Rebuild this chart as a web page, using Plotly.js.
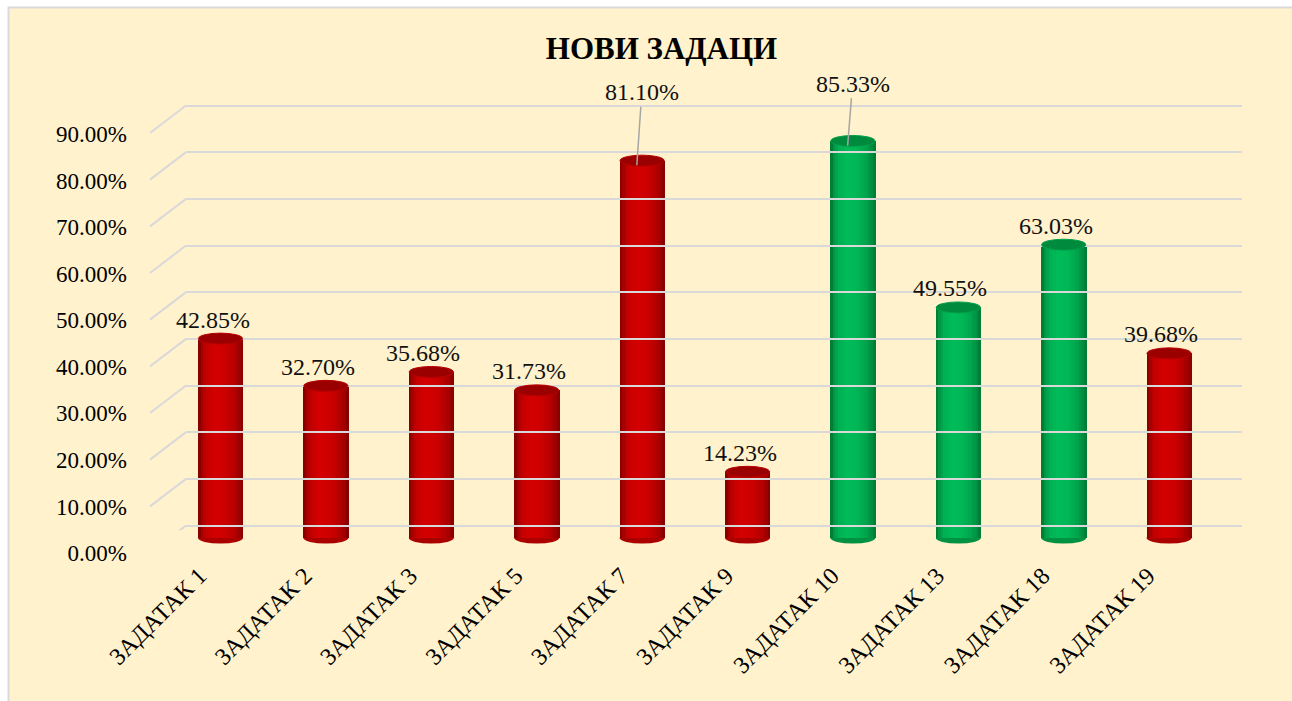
<!DOCTYPE html>
<html>
<head>
<meta charset="utf-8">
<script src="https://cdn.plot.ly/plotly-3.0.1.min.js"></script>
<style>html,body{margin:0;padding:0;background:#fff;}#chart{width:1292px;height:701px;}</style>
</head>
<body>
<div id="chart"></div>
<script>
// ---- data ----
const categories = ['ЗАДАТАК 1','ЗАДАТАК 2','ЗАДАТАК 3','ЗАДАТАК 5','ЗАДАТАК 7','ЗАДАТАК 9','ЗАДАТАК 10','ЗАДАТАК 13','ЗАДАТАК 18','ЗАДАТАК 19'];
const values = [42.85, 32.70, 35.68, 31.73, 81.10, 14.23, 85.33, 49.55, 63.03, 39.68];
const isGreen = [false, false, false, false, false, false, true, true, true, false];
const yTicks = [0, 10, 20, 30, 40, 50, 60, 70, 80, 90];
const yTickText = yTicks.map(v => v.toFixed(2) + '%');
const titleText = 'НОВИ ЗАДАЦИ';

// ---- layout helpers (pixel -> paper) ----
const W = 1292, H = 701;
const px = x => x / W;
const py = y => 1 - y / H;
const FONT = 'Liberation Serif, Times New Roman, serif';

// ---- cylinder shading ----
const barW = 0.427;
const N = 18;
const stops = [[0,0.12],[0.06,0.5],[0.18,0.85],[0.38,1.0],[0.6,0.93],[0.8,0.72],[0.93,0.45],[1,0.22]];
function prof(u){
  for(let i=1;i<stops.length;i++){
    if(u<=stops[i][0]){const a=stops[i-1],b=stops[i];return a[1]+(b[1]-a[1])*(u-a[0])/(b[0]-a[0]);}
  }
  return stops[stops.length-1][1];
}
const redDark=[105,0,0], redBright=[212,0,0];
const grnDark=[0,100,42], grnBright=[0,188,88];
function mix(a,b,t){return 'rgb('+a.map((v,i)=>Math.round(v+(b[i]-v)*t)).join(',')+')';}

const traces = [];
for(let k=0;k<N;k++){
  const u=(k+0.5)/N, f=prof(u);
  traces.push({
    type:'bar', x:categories, y:values, xaxis:'x', yaxis:'y',
    width: barW/N + 0.004, offset: -barW/2 + k*barW/N,
    marker:{color: isGreen.map(g => g ? mix(grnDark,grnBright,f) : mix(redDark,redBright,f)), line:{width:0}},
    hoverinfo:'skip', showlegend:false
  });
}
// helper trace to create the back-wall subplot
traces.push({type:'scatter', x:[0], y:[0], xaxis:'x2', yaxis:'y2', mode:'markers', marker:{opacity:0}, hoverinfo:'skip', showlegend:false});

// ---- shapes ----
const shapes = [];
// chart area
shapes.push({type:'rect', xref:'paper', yref:'paper', x0:px(8.5), x1:1.02, y0:-0.02, y1:py(7.5), fillcolor:'#FFF2CC', line:{color:'#D9D9D9', width:2}, layer:'below'});
// slanted side gridlines (front-left edge to back wall)
yTicks.forEach(v => {
  shapes.push({type:'line', xref:'paper', yref:'y2', x0:px(150), x1:px(186), y0:v - 27.5/4.667, y1:v, line:{color:'#D9D9D9', width:2}, layer:'below'});
});
// ellipses for cylinder bottoms and tops
const eh = 5.5/4.653;
values.forEach((v,i) => {
  shapes.push({type:'circle', xref:'x', yref:'y', x0:i-barW/2, x1:i+barW/2, y0:-eh, y1:eh,
    fillcolor: isGreen[i] ? '#009242' : '#AA0000', line:{width:0}, layer:'between'});
  shapes.push({type:'circle', xref:'x', yref:'y', x0:i-barW/2+0.004, x1:i+barW/2-0.004, y0:v-eh, y1:v+eh,
    fillcolor: isGreen[i] ? '#008A3D' : '#9A0000', line:{color: isGreen[i] ? '#00A04A' : '#B80000', width:1}, layer:'above'});
});

// ---- data labels ----
const annotations = values.map((v,i) => ({
  x:i, y:v, xref:'x', yref:'y', text:v.toFixed(2)+'%',
  font:{family:FONT, size:24, color:'#111'}, showarrow:false, xshift:-8, yshift:19
}));
// leader-line labels for the two tallest bars
[[4, 5, -73], [6, 5, -62]].forEach(([i, ax, ay]) => {
  Object.assign(annotations[i], {x:i-0.05, y:values[i]-1, xshift:0, yshift:0, showarrow:true, arrowhead:0, arrowwidth:1.5, arrowcolor:'#A6A6A6', ax:ax, ay:ay, standoff:0});
});

const layout = {
  width:W, height:H,
  margin:{l:0,r:0,t:0,b:0,pad:0},
  paper_bgcolor:'#FFFFFF', plot_bgcolor:'rgba(0,0,0,0)',
  barmode:'overlay', bargap:0,
  title:{text:'<b>'+titleText+'</b>', x:px(661.5), y:py(48), xanchor:'center', yanchor:'middle', xref:'paper', yref:'paper', font:{family:FONT, size:31, color:'#000'}},
  xaxis:{domain:[px(167.8), px(1221.8)], range:[-0.5, 9.5], type:'category', anchor:'y',
    showgrid:false, zeroline:false, showline:false, ticks:'',
    tickangle:-45, tickfont:{family:FONT, size:24, color:'#000'},
    ticklabelshift:-21, ticklabelstandoff:4},
  yaxis:{domain:[py(538 + 3*4.653), py(538 - 100*4.653)], range:[-3,100], anchor:'x',
    showgrid:false, zeroline:false, showline:false, ticks:'',
    tickvals:yTicks, ticktext:yTickText,
    tickfont:{family:FONT, size:23, color:'#000'},
    ticklabelshift:15, ticklabelstandoff:40},
  xaxis2:{domain:[px(186), px(1242)], range:[0,1], anchor:'y2', visible:true,
    showgrid:false, zeroline:false, showline:false, showticklabels:false, ticks:''},
  yaxis2:{domain:[py(525.5 + 4.667), py(105.5 - 4.667)], range:[-1, 91], anchor:'x2',
    tickvals:yTicks, showgrid:true, gridcolor:'#D9D9D9', gridwidth:2,
    zeroline:false, showline:false, showticklabels:false, ticks:''},
  shapes:shapes,
  annotations:annotations,
  showlegend:false
};

Plotly.newPlot('chart', traces, layout, {displayModeBar:false, staticPlot:true});
</script>
</body>
</html>
